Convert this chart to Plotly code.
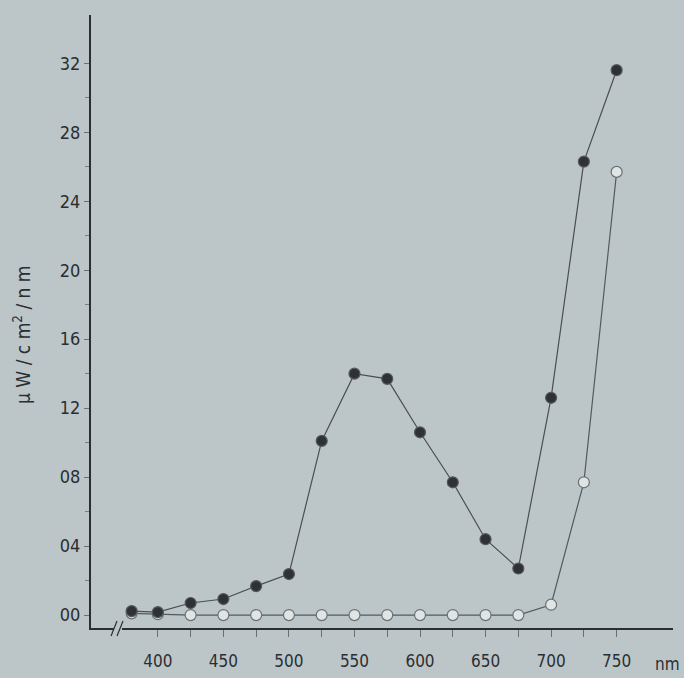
import plotly.graph_objects as go

# wavelengths (nm)
wavelength = [380, 400, 425, 450, 475, 500, 525, 550, 575, 600, 625, 650, 675, 700, 725, 750]
# filled-circle series (µW/cm²/nm)
filled = [0.023, 0.017, 0.07, 0.093, 0.168, 0.238, 1.01, 1.40, 1.37, 1.06, 0.77, 0.44, 0.27, 1.26, 2.63, 3.16]
# open-circle series
open_ = [0.01, 0.005, 0.0, 0.0, 0.0, 0.0, 0.0, 0.0, 0.0, 0.0, 0.0, 0.0, 0.0, 0.06, 0.77, 2.57]

y_tickvals = [0.0, 0.4, 0.8, 1.2, 1.6, 2.0, 2.4, 2.8, 3.2]
y_ticktext = ["00", "04", "08", "12", "16", "20", "24", "28", "32"]
x_tickvals = [400, 450, 500, 550, 600, 650, 700, 750]
x_ticktext = ["400", "450", "500", "550", "600", "650", "700", "750"]

BG = "#bcc6c9"
INK = "#2b2e30"
FONT = "DejaVu Sans Condensed, Liberation Sans Narrow, Arial Narrow, sans-serif"

fig = go.Figure()
fig.add_trace(go.Scatter(
    x=wavelength, y=open_, mode="lines+markers",
    line=dict(color="#555a5c", width=1.2),
    marker=dict(size=11, color="#dfe4e4", line=dict(color="#6a6f71", width=1.2)),
    showlegend=False,
))
fig.add_trace(go.Scatter(
    x=wavelength, y=filled, mode="lines+markers",
    line=dict(color="#4a4e50", width=1.2),
    marker=dict(size=11, color="#2e3234", line=dict(color="#55595b", width=1.2)),
    showlegend=False,
))

fig.update_layout(
    width=684, height=678,
    margin=dict(l=91, r=11, t=15, b=50),
    paper_bgcolor=BG, plot_bgcolor=BG,
    font=dict(family=FONT, size=17, color=INK),
    xaxis=dict(
        range=[349, 793], showgrid=False, zeroline=False, automargin=False,
        showline=True, linecolor=INK, linewidth=2,
        tickmode="array", tickvals=x_tickvals, ticktext=x_ticktext,
        ticks="outside", ticklen=7, tickcolor="#6a6f71", tickwidth=1,
        ticklabelstandoff=10,
        minor=dict(tickvals=[425, 475, 525, 575, 625, 675, 725], ticks="outside",
                   ticklen=7, tickcolor="#6a6f71", tickwidth=1),
        tickfont=dict(family=FONT, size=17, color=INK),
    ),
    yaxis=dict(
        range=[-0.075, 3.48], showgrid=False, zeroline=False, automargin=False,
        showline=True, linecolor=INK, linewidth=2,
        tickmode="array", tickvals=y_tickvals, ticktext=y_ticktext,
        ticks="outside", ticklen=5, tickcolor="#6a6f71", tickwidth=1,
        minor=dict(tickvals=[0.2, 0.6, 1.0, 1.4, 1.8, 2.2, 2.6, 3.0], ticks="outside",
                   ticklen=4, tickcolor="#7a7f81", tickwidth=1),
        tickfont=dict(family=FONT, size=18, color=INK),
    ),
)

# axis break on the x axis
fig.add_shape(type="rect", xref="paper", yref="paper",
              x0=0.0395, x1=0.0533, y0=-0.006, y1=0.006,
              fillcolor=BG, line=dict(width=0), layer="above")
for x0 in (0.0344, 0.0447):
    fig.add_shape(type="line", xref="paper", yref="paper",
                  x0=x0, y0=-0.013, x1=x0 + 0.0103, y1=0.0114,
                  line=dict(color=INK, width=1.2), layer="above")

fig.add_annotation(text="μ W / c m<sup>2</sup> / n m", xref="paper", yref="paper",
                   x=-0.1186, y=0.478, textangle=-90, showarrow=False,
                   xanchor="center", yanchor="middle",
                   font=dict(family=FONT, size=19, color=INK))
fig.add_annotation(text="nm", xref="paper", yref="paper",
                   x=(667 - 91) / 582, y=-(664 - 628) / 613, showarrow=False,
                   xanchor="center", yanchor="middle",
                   font=dict(family=FONT, size=17, color=INK))

fig.write_html(
    "out.html",
    config={"displayModeBar": False},
    post_script="document.body.style.margin='0';document.body.style.overflow='hidden';",
)
